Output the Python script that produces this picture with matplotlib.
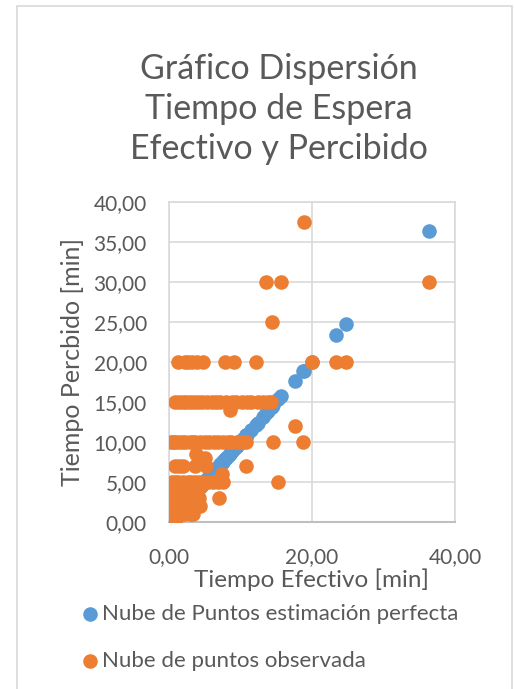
import matplotlib.pyplot as plt
from matplotlib.ticker import FuncFormatter, MultipleLocator
from matplotlib.patches import Rectangle

plt.rcParams['font.family'] = ['Lato', 'DejaVu Sans']

# Tiempo efectivo (x) y tiempo percibido (y) de cada observación [min]
tiempo_efectivo = [
    1.3, 2.3, 2.7, 3.2, 3.9, 4.8, 7.8, 9.1, 12.1, 20.0, 23.4, 24.7,
    13.6, 15.7, 36.4, 18.9, 14.4, 17.6, 8.5,
    0.9, 1.4, 1.9, 2.4, 2.9, 3.5, 4.1, 4.6, 5.3, 6.0, 6.6, 7.2, 8.0, 8.8, 9.4,
    10.2, 10.9, 11.5, 12.4, 13.1, 13.8, 14.3,
    0.3, 0.6, 0.9, 1.3, 1.8, 2.2, 2.9, 3.3, 3.7, 4.4, 5.0, 5.6, 6.3, 6.9, 7.5,
    8.2, 8.7, 9.5, 10.0, 10.4, 10.8, 14.6, 18.8,
    0.8, 1.4, 2.0, 3.8, 4.4, 5.1, 3.7, 5.2, 10.8,
    7.4, 0.4, 0.8, 1.3, 2.0, 2.6, 3.1, 3.6, 4.2, 4.8, 5.5, 6.2, 6.8, 7.6, 15.3, 7.0,
    0.3, 0.9, 1.6, 2.4, 3.0, 3.8, 4.5,
    0.2, 0.7, 1.2, 2.0, 2.8, 3.5, 4.2,
    0.4, 1.1, 1.7, 2.5, 3.3, 4.3,
    0.3, 0.6, 1.4, 2.1, 2.9, 3.4,
    0.5, 0.9, 1.0, 0.2,
]
tiempo_percibido = [
    20, 20, 20, 20, 20, 20, 20, 20, 20, 20, 20, 20,
    30, 30, 30, 37.5, 25, 12, 14,
    15, 15, 15, 15, 15, 15, 15, 15, 15, 15, 15, 15, 15, 15, 15,
    15, 15, 15, 15, 15, 15, 15,
    10, 10, 10, 10, 10, 10, 10, 10, 10, 10, 10, 10, 10, 10, 10,
    10, 10, 10, 10, 10, 10, 10, 10,
    7, 7, 7, 8.5, 8, 8, 7, 7, 7,
    6, 5, 5, 5, 5, 5, 5, 5, 5, 5, 5, 5, 5, 5, 5, 3,
    4, 4, 4, 4, 4, 4, 4.5,
    3, 3, 3, 3, 3, 3, 3,
    2, 2, 2, 2, 2, 2,
    1, 1, 1, 1, 1, 1,
    0, 0, 0.5, 1.5,
]

azul = '#5B9BD5'
naranjo = '#ED7D31'
gris_texto = '#595959'

fig = plt.figure(figsize=(5.14, 6.89), dpi=100)
ax = fig.add_axes([169 / 514, 1 - 521.7 / 689, 286 / 514, 320 / 689])

# borde del área del gráfico
fig.patches.append(Rectangle((17 / 514, -0.05), 495 / 514, 1.05 - 6 / 689,
                             transform=fig.transFigure, fill=False,
                             edgecolor='#D9D9D9', linewidth=1.2))

ax.scatter(tiempo_efectivo, tiempo_efectivo, s=110, color=azul, linewidths=0,
           label='Nube de Puntos estimación perfecta', zorder=3)
ax.scatter(tiempo_efectivo, tiempo_percibido, s=110, color=naranjo, linewidths=0,
           label='Nube de puntos observada', zorder=4)

ax.set_xlim(0, 40)
ax.set_ylim(0, 40)
ax.xaxis.set_major_locator(MultipleLocator(20))
ax.yaxis.set_major_locator(MultipleLocator(5))
coma = FuncFormatter(lambda v, _: f'{v:.2f}'.replace('.', ','))
ax.xaxis.set_major_formatter(coma)
ax.yaxis.set_major_formatter(coma)
ax.tick_params(axis='both', length=0, labelsize=15, colors=gris_texto)
ax.tick_params(axis='x', pad=18)
ax.tick_params(axis='y', pad=16)

ax.grid(True, color='#D9D9D9', linewidth=1.2, zorder=0)
ax.set_axisbelow(True)
for lado in ['left', 'top', 'right']:
    ax.spines[lado].set_color('#D9D9D9')
    ax.spines[lado].set_linewidth(1.2)
ax.spines['bottom'].set_color('#BFBFBF')
ax.spines['bottom'].set_linewidth(1.5)

ax.set_xlabel('Tiempo Efectivo [min]', fontsize=17.5, color=gris_texto, labelpad=1)
ax.set_ylabel('Tiempo Percbido [min]', fontsize=18, color=gris_texto, labelpad=7)

fig.text(279 / 514, 1 - 109 / 689,
         'Gráfico Dispersión\nTiempo de Espera\nEfectivo y Percibido',
         ha='center', va='center', fontsize=24.5, color=gris_texto, linespacing=1.3)

fig.legend(loc='upper left', bbox_to_anchor=(82 / 514, 1 - 604 / 689),
           frameon=False, fontsize=16, labelcolor=gris_texto, scatterpoints=1,
           handlelength=0.7, handletextpad=0.2, labelspacing=1.2, borderpad=0,
           borderaxespad=0)

fig.savefig('out.png', dpi=100)
